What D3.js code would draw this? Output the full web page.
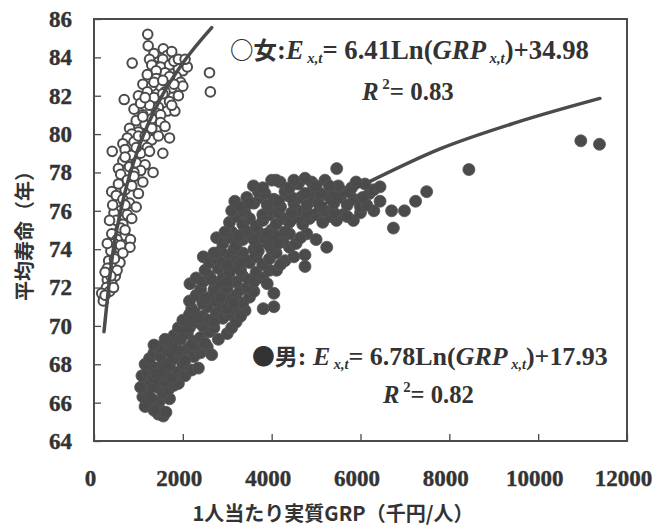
<!DOCTYPE html>
<html><head><meta charset="utf-8">
<script src="https://cdn.jsdelivr.net/npm/d3@7"></script>
<style>
html,body{margin:0;padding:0;background:#fff;}
svg{display:block;}
</style>
</head><body>
<svg id="chart" width="656" height="528"></svg>
<script>
// ---- data ----
const xTicks = [0, 2000, 4000, 6000, 8000, 10000, 12000];
const yTicks = [64, 66, 68, 70, 72, 74, 76, 78, 80, 82, 84, 86];
const xTitle = "1人当たり実質GRP（千円/人）";
const yTitle = "平均寿命（年）";

// regression labels printed on the chart: E = a*Ln(GRP) + b
const fitNames = ["女", "男"];
const fitSlope = [6.41, 6.78];
const fitIntercept = [34.98, 17.93];
const fitR2 = ["0.83", "0.82"];

// regression curves as drawn in the picture [GRP, life expectancy]
const femaleCurve = [[225,69.7],[400,73.4],[700,76.98],[1000,79.26],[1500,81.86],[2000,83.7],[2650,85.55]];
const maleCurve = [[1150,65.8],[2000,69.69],[3000,72.52],[4000,74.54],[5000,76.1],[6140,77.45],[7790,79.23],[9500,80.6],[11390,81.86]];

// female (open circles) [GRP, life expectancy]
const female = [
 [1210,85.2],[1220,84.6],[1560,84.45],[1450,84.0],[1350,84.2],[1650,84.1],[1750,84.3],[1250,83.9],[1550,83.9],
 [860,83.7],[1300,83.6],[1500,83.5],[1700,83.6],[1900,83.4],[1800,83.8],[2000,83.3],[1600,83.2],[2100,83.5],[1400,83.3],[1900,83.9],[2050,83.9],
 [1200,83.1],[1400,82.9],[1650,82.8],[1850,83.0],[1950,82.7],[1100,82.6],[1500,82.5],[1750,82.4],[2600,83.2],[2620,82.2],[1300,82.5],[1600,82.2],[1700,83.0],[1350,82.7],[1550,82.8],[2000,82.5],[1800,82.6],
 [680,81.8],[1000,82.0],[1200,82.2],[1350,81.9],[1550,82.1],[1700,81.7],[1900,82.0],[1250,81.5],[1450,81.4],[1650,81.2],[1820,81.2],[900,81.3],[1100,81.0],[1050,81.6],[1400,81.1],[1150,81.9],[1750,81.5],[1500,81.0],
 [950,80.7],[1150,80.5],[1300,80.8],[1500,80.6],[800,80.3],[1000,80.1],[1200,80.0],[1400,80.2],[1600,80.4],[1100,80.9],[1300,80.3],[850,80.0],
 [750,79.8],[900,79.6],[1100,79.5],[1300,79.7],[1450,79.9],[1700,79.8],[1000,79.9],[1200,79.3],[1150,79.9],[650,79.5],
 [410,79.1],[700,79.2],[850,78.9],[1050,79.0],[1250,79.1],[1550,79.0],[950,79.3],
 [650,78.6],[800,78.3],[950,78.5],[1150,78.4],[1330,78.0],[1050,78.1],[700,78.8],[900,78.0],[550,78.2],
 [600,77.9],[750,77.6],[900,77.8],[1100,77.5],[700,77.1],[850,77.3],[1000,76.9],[550,77.4],[400,77.0],
 [500,76.8],[650,76.6],[800,76.4],[950,76.2],[600,76.0],[750,75.8],[450,75.9],[700,76.3],[420,76.3],
 [500,75.5],[650,75.3],[850,75.6],[560,74.9],[700,74.7],[820,74.5],[400,74.8],[600,75.1],[350,75.5],[700,75.0],[520,74.5],
 [450,74.3],[600,74.2],[810,74.1],[380,73.9],[500,73.6],[650,73.8],[330,73.4],[420,73.1],[585,73.3],[300,74.3],[460,73.5],
 [350,72.8],[480,72.6],[300,72.4],[400,72.2],[520,72.9],[280,72.0],[350,71.8],[173,71.7],[210,71.3],[250,71.6],[440,72.0],[300,73.0],[380,72.6],[250,72.8]
];

// male (filled circles) [GRP, life expectancy]
const male = [
 [1450,65.4],[1560,65.3],[1500,65.6],[1620,65.5],[1380,65.9],[1250,66.0],[1480,66.1],[1150,65.8],[1350,65.6],[1700,66.2],
 [1100,66.3],[1200,66.6],[1300,66.2],[1420,66.8],[1550,66.5],[1680,66.7],[1800,66.9],[1150,67.0],[1350,67.1],[1900,67.0],[1250,66.9],[1050,66.8],[1600,67.1],
 [1080,67.4],[1200,67.6],[1330,67.3],[1450,67.8],[1600,67.5],[1750,67.3],[1900,67.6],[2050,67.4],[2200,67.7],[2350,67.8],[1300,67.9],[1550,68.0],[1700,67.9],[2000,68.0],[1400,67.5],[1150,68.0],
 [1250,68.3],[1350,68.6],[1500,68.4],[1650,68.7],[1800,68.3],[1950,68.5],[2100,68.8],[2250,68.4],[2400,68.6],[2550,68.9],[1450,68.9],[1750,69.0],[2050,68.2],[2300,69.0],[2650,68.5],[1900,68.7],[1350,69.0],
 [1650,69.2],[1800,69.5],[1950,69.3],[2100,69.6],[2250,69.2],[2400,69.4],[2600,69.7],[2800,69.3],[3000,69.6],[2150,69.9],[2450,70.0],[2700,69.9],[1900,69.9],[3100,69.9],[1600,69.3],[2200,69.0],[2500,69.1],
 [2000,70.3],[2150,70.6],[2300,70.2],[2450,70.5],[2600,70.3],[2750,70.7],[2900,70.4],[3050,70.6],[3200,70.2],[3400,70.8],[2200,70.9],[2550,71.0],[2850,71.0],[3150,70.9],[3810,70.9],[4050,71.0],[2350,70.4],[2700,70.2],[3000,70.9],[3300,70.5],
 [2150,71.3],[2300,71.6],[2450,71.2],[2600,71.5],[2750,71.3],[2900,71.7],[3050,71.4],[3200,71.6],[3350,71.2],[3500,71.5],[2400,71.9],[2700,71.9],[3000,72.0],[3300,71.9],[3600,71.8],[4050,71.7],[2500,71.4],[2850,71.5],[3150,71.2],[3450,72.0],
 [2160,72.2],[2300,72.5],[2450,72.3],[2600,72.6],[2750,72.2],[2900,72.5],[3050,72.8],[3200,72.3],[3350,72.6],[3500,72.4],[3650,72.8],[3800,72.5],[3950,72.9],[4110,72.9],[2500,72.9],[2800,73.0],[3100,73.1],[2650,72.4],[3000,72.3],[3300,72.9],[3600,72.3],[3900,72.2],
 [2460,73.6],[2600,73.3],[2750,73.5],[2900,73.3],[3050,73.7],[3200,73.4],[3350,73.8],[3500,73.3],[3650,73.6],[3800,73.2],[3950,73.5],[4100,73.8],[4300,73.4],[4500,73.6],[4750,73.7],[4750,73.1],[2850,73.9],[3150,74.0],[3600,74.0],[4000,74.0],[2700,73.8],[3000,73.2],[3300,73.3],[3700,73.9],[4200,73.2],[4400,74.1],
 [2760,74.6],[2900,74.3],[3050,74.6],[3200,74.2],[3350,74.5],[3500,74.8],[3650,74.3],[3800,74.6],[3950,74.2],[4100,74.7],[4250,74.4],[4400,74.8],[4550,74.3],[4790,74.8],[5240,74.1],[3100,74.9],[3400,75.0],[3700,74.9],[4000,75.0],[4300,74.9],[2950,74.9],[3250,74.7],[3600,74.5],[3900,74.8],[4150,74.3],[4650,74.6],[5000,74.5],
 [3050,75.4],[3200,75.7],[3350,75.3],[3500,75.6],[3650,75.2],[3800,75.5],[3950,75.8],[4100,75.3],[4250,75.6],[4400,75.4],[4550,75.7],[4700,75.3],[4850,75.6],[5000,75.8],[5150,75.4],[5300,75.7],[5460,75.5],[5600,75.8],[5840,75.5],[6740,75.1],[3400,75.9],[4000,76.0],[4600,76.0],[5200,76.0],
 [3100,76.0],[3350,76.0],[3800,75.8],[4150,75.9],[4450,75.9],[4800,75.9],[5400,75.9],[5700,75.7],[6000,75.9],[6300,76.0],
 [3170,76.5],[3300,76.2],[3440,76.7],[3600,76.4],[3750,76.7],[3900,76.3],[4050,76.6],[4200,76.2],[4350,76.8],[4500,76.4],[4650,76.7],[4800,76.3],[4950,76.6],[5100,76.2],[5250,76.8],[5400,76.4],[5550,76.7],[5700,76.3],[5850,76.6],[6000,76.2],[6140,76.3],[6440,76.5],[6700,76.0],[6990,76.0],[7240,76.5],[3700,77.0],[4300,77.0],[4900,77.0],[5600,77.0],[6200,76.9],
 [5050,76.4],[3500,76.4],[3850,76.9],[4150,76.5],[4450,76.7],[4750,76.9],[5100,76.9],[5400,77.0],[5750,77.0],[6050,76.7],[6300,77.1],
 [3590,77.3],[3800,77.2],[4190,77.5],[4400,77.2],[4600,77.4],[4900,77.5],[5200,77.6],[5500,77.3],[5800,77.2],[6100,77.4],[6440,77.25],[7490,77.0],[4000,77.6],[4750,77.7],[4100,77.6],[4500,77.6],[5000,77.3],[5300,77.3],[5900,77.5],
 [5464,78.2],[8440,78.15],[10960,79.65],[11380,79.47]
];

// ---- drawing ----
const svg = d3.select("#chart");
const ink = "#4b4b4b", txt = "#333";
const serif = "'Liberation Serif', Tinos, 'Times New Roman', serif";
const gothic = "'Noto Sans CJK JP', 'Noto Sans', sans-serif";

const x = d3.scaleLinear().domain([0, 12000]).range([94, 627]);
const y = d3.scaleLinear().domain([64, 86]).range([441, 19]);

// axes
const gx = svg.append("g").attr("transform", `translate(0,${y(64)})`)
  .call(d3.axisBottom(x).tickValues(xTicks).tickSizeInner(-7).tickSizeOuter(0).tickPadding(29).tickFormat(d3.format("d")));
const gy = svg.append("g").attr("transform", `translate(${x(0)},0)`)
  .call(d3.axisLeft(y).tickValues(yTicks).tickSizeInner(-7).tickSizeOuter(0).tickPadding(22).tickFormat(d3.format("d")));
[gx, gy].forEach(g => {
  g.attr("font-family", null);
  g.select(".domain").remove();
  g.selectAll(".tick line").attr("stroke", ink).attr("stroke-width", 1.3);
  g.selectAll(".tick text").attr("fill", txt).attr("stroke", txt).attr("stroke-width", 0.4)
    .style("font-family", serif).style("font-weight", "bold").style("font-size", "23px");
});
gx.selectAll(".tick text").attr("dx", -4);

// frame
svg.append("rect").attr("x", x(0)).attr("y", y(86))
  .attr("width", x(12000) - x(0)).attr("height", y(64) - y(86))
  .attr("fill", "none").attr("stroke", ink).attr("stroke-width", 2);

// points
svg.append("g").selectAll("circle").data(male).join("circle")
  .attr("cx", d => x(d[0])).attr("cy", d => y(d[1])).attr("r", 6)
  .attr("fill", ink).attr("stroke", "#555").attr("stroke-width", 0.8);
svg.append("g").selectAll("circle").data(female).join("circle")
  .attr("cx", d => x(d[0])).attr("cy", d => y(d[1])).attr("r", 4.8)
  .attr("fill", "#fff").attr("stroke", ink).attr("stroke-width", 2);

// regression curves
const line = d3.line().x(d => x(d[0])).y(d => y(d[1])).curve(d3.curveMonotoneX);
[femaleCurve, maleCurve].forEach(c => {
  svg.append("path").datum(c).attr("d", line).attr("fill", "none")
    .attr("stroke", ink).attr("stroke-width", 3.5).attr("stroke-linecap", "round");
});

// annotations (fit each line to the width it has in the picture)
function fitWidth(t, target) {
  const w = t.node().getBBox().width;
  const s = parseFloat(t.style("font-size"));
  t.style("font-size", (s * target / w).toFixed(2) + "px");
}
const notePos = [
  {x: 230, y: 59, w: 359, rx: 362, ry: 100, rw: 93, sym: "○", sep: ":"},
  {x: 252, y: 365, w: 356, rx: 383, ry: 403, rw: 92, sym: "●", sep: ": "}
];
fitSlope.forEach((a, i) => {
  const p = notePos[i];
  const t = svg.append("text").attr("x", p.x).attr("y", p.y).attr("fill", txt)
    .style("font-family", serif).style("font-weight", "bold").style("font-size", "21px");
  t.append("tspan").style("font-family", gothic).style("font-size", "0.88em").text(p.sym + fitNames[i]);
  t.append("tspan").text(p.sep);
  t.append("tspan").style("font-style", "italic").text("E");
  t.append("tspan").style("font-style", "italic").style("font-size", "0.55em").attr("dy", "0.3em").text(" x,t");
  t.append("tspan").attr("dy", "-0.17em").text("= " + a.toFixed(2) + "Ln(");
  t.append("tspan").style("font-style", "italic").text("GRP");
  t.append("tspan").style("font-style", "italic").style("font-size", "0.55em").attr("dy", "0.3em").text(" x,t");
  t.append("tspan").attr("dy", "-0.17em").text(")+" + fitIntercept[i].toFixed(2));
  fitWidth(t, p.w);

  const r = svg.append("text").attr("x", p.rx).attr("y", p.ry).attr("fill", txt)
    .style("font-family", serif).style("font-weight", "bold").style("font-size", "21px");
  r.append("tspan").style("font-style", "italic").text("R");
  r.append("tspan").style("font-size", "0.6em").attr("dy", "-0.75em").text(" 2");
  r.append("tspan").attr("dy", "0.45em").text("= " + fitR2[i]);
  fitWidth(r, p.rw);
});

// axis titles
svg.append("text").attr("x", 333).attr("y", 521).attr("text-anchor", "middle")
  .style("font-family", gothic).style("font-weight", "bold").style("font-size", "20px")
  .attr("fill", txt).text(xTitle);
svg.append("text").attr("transform", "translate(32,231) rotate(-90)").attr("text-anchor", "middle")
  .style("font-family", gothic).style("font-weight", "bold").style("font-size", "20px")
  .attr("fill", txt).text(yTitle);
</script>
</body></html>
